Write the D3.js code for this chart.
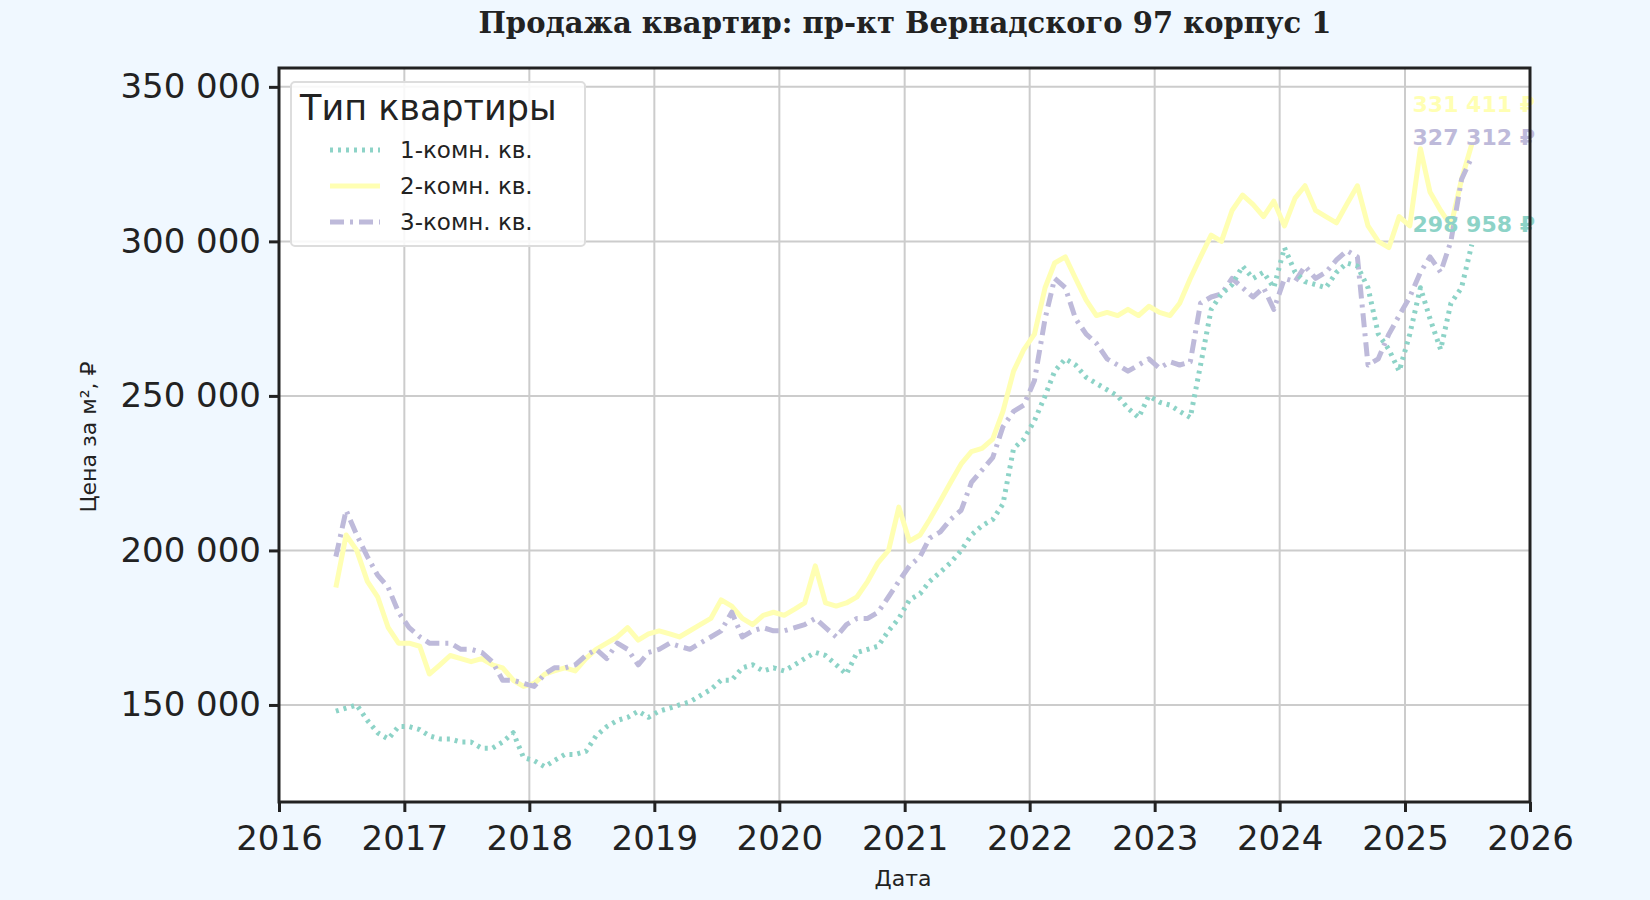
<!DOCTYPE html>
<html><head><meta charset="utf-8">
<script src="https://cdn.jsdelivr.net/npm/d3@7"></script>
<style>body{margin:0;background:#f0f8ff}svg{display:block}</style></head>
<body><svg id="c" width="1650" height="900"></svg>
<script>
const startMonth = "2016-06";
const seriesNames = ["1-комн. кв.", "2-комн. кв.", "3-комн. кв."];
const room1 = [148,149,150,145,141,139,143, 143,142,140,139,139,138,138,136,136,138,141,133, 132,130,132,134,134,135,140,143,145,146,148,146, 148,149,150,151,153,155,158,158,162,163,161,162, 161,163,165,167,166,163,160,167,168,169,174,178, 184,186,190,193,196,200,205,208,210,215,233,236, 242,250,258,262,260,256,254,252,250,246,243,250, 248,247,245,243,260,278,283,286,292,288,290,285, 298,290,287,286,285,290,293,292,285,270,265,258, 270,285,275,265,280,285,298.958];
const room2 = [188,205,200,190,185,175,170, 170,169,160,163,166,165,164,165,163,162,158,156, 157,160,161,162,161,165,168,170,172,175,171,173, 174,173,172,174,176,178,184,182,178,176,179,180, 179,181,183,195,183,182,183,185,190,196,200,214, 203,205,210,216,222,228,232,233,236,245,258,265, 270,285,293,295,288,281,276,277,276,278,276,279, 277,276,280,288,295,302,300,310,315,312,308,313, 305,314,318,310,308,306,312,318,305,300,298,308, 305,330,316,310,305,320,331.411];
const room3 = [198,213,205,198,192,188,180, 175,172,170,170,170,168,168,167,164,158,158,157, 156,160,162,162,163,166,168,165,170,168,163,167, 168,170,169,168,170,172,174,180,172,174,175,174, 174,175,176,178,175,172,176,178,178,180,185,190, 195,198,204,206,210,213,222,226,230,240,245,247, 255,275,288,285,275,270,267,262,260,258,260,262, 259,261,260,261,280,282,283,288,285,282,285,278, 288,287,292,288,290,294,297,295,260,262,270,276, 282,290,295,290,300,320,327.312];
const yTicks = [150000,200000,250000,300000,350000];
const xTicks = [2016,2017,2018,2019,2020,2021,2022,2023,2024,2025,2026];
const colors = ["#8dd3c7","#ffffb3","#bebada"];
const dashes = ["3,5","none","14,6,3,6"];
const labelDy = [-20,-40,-20];

const svg = d3.select("#c");
const L=279,R=1530,T=68,B=802;
const x = d3.scaleTime().domain([new Date(2016,0,1),new Date(2026,0,1)]).range([L,R]);
const y = d3.scaleLinear().domain([118600,356100]).range([B,T]);
svg.append("rect").attr("x",L).attr("y",T).attr("width",R-L).attr("height",B-T).attr("fill","#fff");
const g=svg.append("g");
g.selectAll(".gx").data(xTicks).join("line").attr("x1",d=>x(new Date(d,0,1))).attr("x2",d=>x(new Date(d,0,1))).attr("y1",T).attr("y2",B).attr("stroke","#cccccc").attr("stroke-width",2);
g.selectAll(".gy").data(yTicks).join("line").attr("y1",d=>y(d)).attr("y2",d=>y(d)).attr("x1",L).attr("x2",R).attr("stroke","#cccccc").attr("stroke-width",2);

const [sy,sm]=startMonth.split("-").map(Number);
const toPts = arr => arr.map((v,i)=>({d:new Date(sy,sm-1+i,15),v:v*1000}));
const all=[room1,room2,room3].map(toPts);
const line=d3.line().x(p=>x(p.d)).y(p=>y(p.v));
const order=[1,2,0];
order.forEach(i=>{
  svg.append("path").attr("d",line(all[i])).attr("fill","none").attr("stroke",colors[i]).attr("stroke-width",5).attr("stroke-dasharray",dashes[i]).attr("stroke-linejoin","round");
});
all.forEach((s,i)=>{
  const last=s[s.length-1];
  svg.append("text").attr("x",x(last.d)+2).attr("y",y(last.v)+labelDy[i]).attr("dy","0.35em").attr("text-anchor","middle")
   .attr("font-family","DejaVu Sans").attr("font-weight","bold").attr("font-size",22).attr("fill",colors[i])
   .text(d3.format(",")(Math.round(last.v)).replace(/,/g," ")+" ₽");
});
svg.append("rect").attr("x",L).attr("y",T).attr("width",R-L).attr("height",B-T).attr("fill","none").attr("stroke","#222").attr("stroke-width",3);
const fmt=d=>d3.format(",")(d).replace(/,/g," ");
const ya=svg.append("g").attr("transform",`translate(${L},0)`).call(d3.axisLeft(y).tickValues(yTicks).tickFormat(fmt).tickSize(10).tickPadding(8));
const xa=svg.append("g").attr("transform",`translate(0,${B})`).call(d3.axisBottom(x).tickValues(xTicks.map(t=>new Date(t,0,1))).tickFormat(d3.timeFormat("%Y")).tickSize(10).tickPadding(14));
[ya,xa].forEach(a=>{a.select(".domain").remove();a.selectAll("line").attr("stroke","#222").attr("stroke-width",3);a.selectAll("text").attr("font-family","DejaVu Sans").attr("font-size",34).attr("fill","#222");});
svg.append("text").attr("x",905).attr("y",33).attr("text-anchor","middle").attr("font-family","DejaVu Serif").attr("font-weight","bold").attr("font-size",29).attr("fill","#222").text("Продажа квартир: пр-кт Вернадского 97 корпус 1");
svg.append("text").attr("x",903).attr("y",886).attr("text-anchor","middle").attr("font-family","DejaVu Sans").attr("font-size",22).attr("fill","#222").text("Дата");
svg.append("text").attr("transform","translate(96,437) rotate(-90)").attr("text-anchor","middle").attr("font-family","DejaVu Sans").attr("font-size",22).attr("fill","#222").text("Цена за м², ₽");
const lg=svg.append("g");
lg.append("rect").attr("x",291).attr("y",82).attr("width",294).attr("height",164).attr("rx",4).attr("fill","#fff").attr("fill-opacity",0.85).attr("stroke","#ddd").attr("stroke-width",2);
lg.append("text").attr("x",300).attr("y",120).attr("font-family","DejaVu Sans").attr("font-size",35).attr("fill","#222").text("Тип квартиры");
seriesNames.forEach((n,i)=>{
  const yy=150+i*36;
  lg.append("line").attr("x1",330).attr("x2",380).attr("y1",yy).attr("y2",yy).attr("stroke",colors[i]).attr("stroke-width",5).attr("stroke-dasharray",dashes[i]);
  lg.append("text").attr("x",400).attr("y",yy).attr("dy","0.35em").attr("font-family","DejaVu Sans").attr("font-size",23).attr("fill","#222").text(n);
});
</script></body></html>
